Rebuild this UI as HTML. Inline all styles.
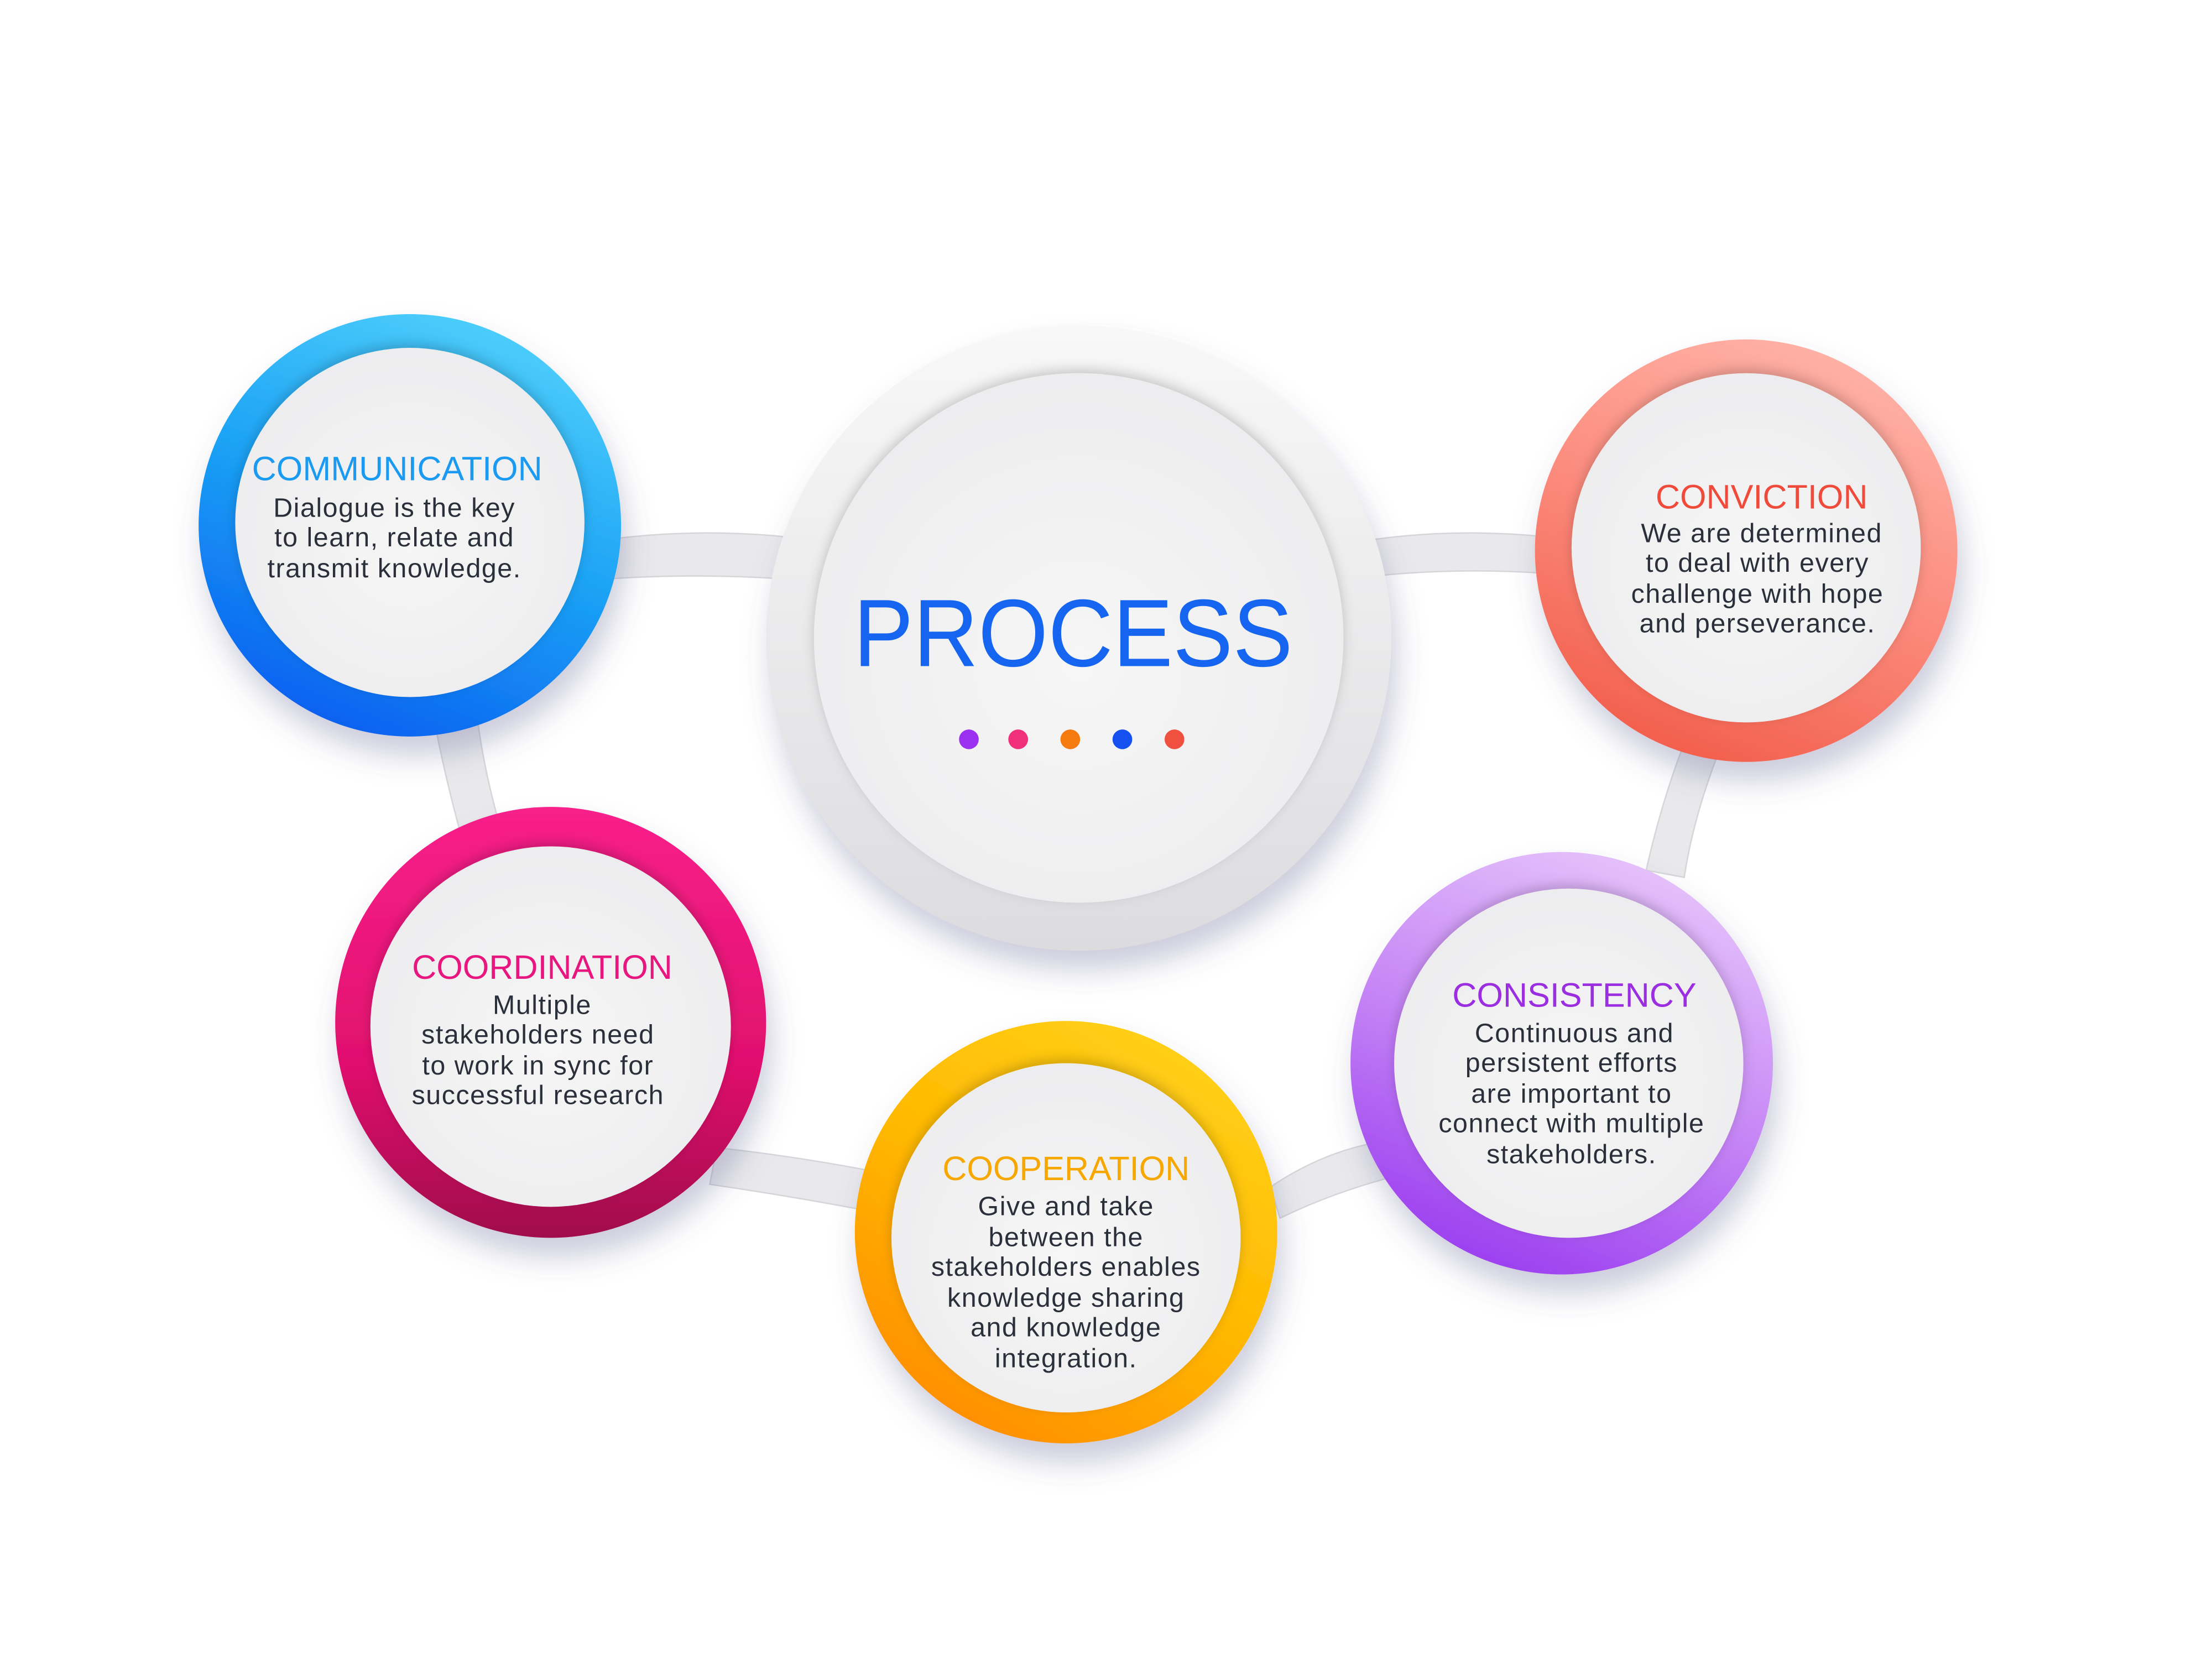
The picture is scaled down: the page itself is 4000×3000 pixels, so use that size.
<!DOCTYPE html>
<html><head><meta charset="utf-8"><style>
html,body{margin:0;padding:0;background:#fff;}
svg{display:block;}
text{font-family:"Liberation Sans",sans-serif;text-anchor:middle;}
.b{fill:#2b2f3a;font-size:19px;letter-spacing:0.6px;}
.t{font-size:24px;}
</style></head><body>
<svg width="4000" height="3000" viewBox="0 0 1552 1164" xmlns="http://www.w3.org/2000/svg">
<defs>
<filter id="sh" x="-30%" y="-30%" width="160%" height="160%"><feDropShadow dx="4" dy="14" stdDeviation="10" flood-color="#5a5a90" flood-opacity="0.3"/></filter>
<filter id="is" x="-20%" y="-20%" width="140%" height="140%"><feDropShadow dx="0" dy="-3" stdDeviation="4" flood-color="#000" flood-opacity="0.18"/></filter>
<linearGradient id="gBlue" x1="0.7" y1="0" x2="0.3" y2="1"><stop offset="0" stop-color="#4fd0fb"/><stop offset="0.5" stop-color="#1aa0f5"/><stop offset="1" stop-color="#0a5ef0"/></linearGradient>
<linearGradient id="gRed" x1="0.7" y1="0" x2="0.3" y2="1"><stop offset="0" stop-color="#ffb3a8"/><stop offset="0.5" stop-color="#fb8a7c"/><stop offset="1" stop-color="#f25d4a"/></linearGradient>
<linearGradient id="gPink" x1="0.5" y1="0" x2="0.5" y2="1"><stop offset="0" stop-color="#f8208a"/><stop offset="0.6" stop-color="#e0106e"/><stop offset="1" stop-color="#a0104a"/></linearGradient>
<linearGradient id="gOr" x1="0.8" y1="0" x2="0.2" y2="1"><stop offset="0" stop-color="#ffd21a"/><stop offset="0.5" stop-color="#ffb800"/><stop offset="1" stop-color="#ff8a00"/></linearGradient>
<linearGradient id="gPur" x1="0.7" y1="0" x2="0.3" y2="1"><stop offset="0" stop-color="#e6c4fb"/><stop offset="0.5" stop-color="#c686f5"/><stop offset="1" stop-color="#9a3cf0"/></linearGradient>
<linearGradient id="gGray" x1="0.5" y1="0" x2="0.5" y2="1"><stop offset="0" stop-color="#f8f8f8"/><stop offset="1" stop-color="#dcdcdf"/></linearGradient>
<radialGradient id="inner" cx="0.5" cy="0.55" r="0.6"><stop offset="0" stop-color="#f6f6f6"/><stop offset="1" stop-color="#ececee"/></radialGradient>
</defs>
<g transform="translate(4,3) scale(0.988)">
<g fill="#e9e9ec" stroke="#d6d6da" stroke-width="1">
<path d="M428 380 Q490 372 552 378 L552 408 Q490 404 428 408 Z"/>
<path d="M972 380 Q1030 372 1092 378 L1092 404 Q1030 400 972 406 Z"/>
<path d="M305 512 L335 508 Q340 545 350 580 L322 585 Q312 548 305 512 Z"/>
<path d="M1190 530 L1215 535 Q1198 580 1192 620 L1165 615 Q1175 570 1190 530 Z"/>
<path d="M505 812 Q560 818 612 828 L608 856 Q555 846 500 838 Z"/>
<path d="M898 840 Q935 815 975 808 L980 834 Q940 845 905 862 Z"/>
</g>
<g filter="url(#sh)">
<circle cx="287" cy="370" r="150" fill="url(#gBlue)"/>
<circle cx="762" cy="450" r="222" fill="url(#gGray)"/>
<circle cx="1236" cy="388" r="150" fill="url(#gRed)"/>
<circle cx="387" cy="723" r="153" fill="url(#gPink)"/>
<circle cx="753" cy="872" r="150" fill="url(#gOr)"/>
<circle cx="1105" cy="752" r="150" fill="url(#gPur)"/>
</g>
<g filter="url(#is)">
<circle cx="287" cy="368" r="124" fill="url(#inner)"/>
<circle cx="762" cy="450" r="188" fill="url(#inner)"/>
<circle cx="1236" cy="386" r="124" fill="url(#inner)"/>
<circle cx="387" cy="726" r="128" fill="url(#inner)"/>
<circle cx="753" cy="876" r="124" fill="url(#inner)"/>
<circle cx="1110" cy="752" r="124" fill="url(#inner)"/>
</g>
<text x="758" y="470" font-size="68" fill="#1565f0" textLength="312" lengthAdjust="spacingAndGlyphs">PROCESS</text>
<circle cx="684" cy="522" r="7" fill="#9b30f0"/><circle cx="719" cy="522" r="7" fill="#f0307a"/><circle cx="756" cy="522" r="7" fill="#f57a10"/><circle cx="793" cy="522" r="7" fill="#1550f0"/><circle cx="830" cy="522" r="7" fill="#f05040"/>
<text class="t" x="278" y="338" fill="#1a9af0">COMMUNICATION</text>
<text class="b" x="276" y="364">Dialogue is the key</text><text class="b" x="276" y="385">to learn, relate and</text><text class="b" x="276" y="407">transmit knowledge.</text>
<text class="t" x="1247" y="358" fill="#f04a3a">CONVICTION</text>
<text class="b" x="1247" y="382">We are determined</text><text class="b" x="1244" y="403">to deal with every</text><text class="b" x="1244" y="425">challenge with hope</text><text class="b" x="1244" y="446">and perseverance.</text>
<text class="t" x="381" y="692" fill="#e8177f">COORDINATION</text>
<text class="b" x="381" y="717">Multiple</text><text class="b" x="378" y="738">stakeholders need</text><text class="b" x="378" y="760">to work in sync for</text><text class="b" x="378" y="781">successful research</text>
<text class="t" x="753" y="835" fill="#f7a800">COOPERATION</text>
<text class="b" x="753" y="860">Give and take</text><text class="b" x="753" y="882">between the</text><text class="b" x="753" y="903">stakeholders enables</text><text class="b" x="753" y="925">knowledge sharing</text><text class="b" x="753" y="946">and knowledge</text><text class="b" x="753" y="968">integration.</text>
<text class="t" x="1114" y="712" fill="#9a2ee0">CONSISTENCY</text>
<text class="b" x="1114" y="737">Continuous and</text><text class="b" x="1112" y="758">persistent efforts</text><text class="b" x="1112" y="780">are important to</text><text class="b" x="1112" y="801">connect with multiple</text><text class="b" x="1112" y="823">stakeholders.</text>
</g>
</svg>
</body></html>
